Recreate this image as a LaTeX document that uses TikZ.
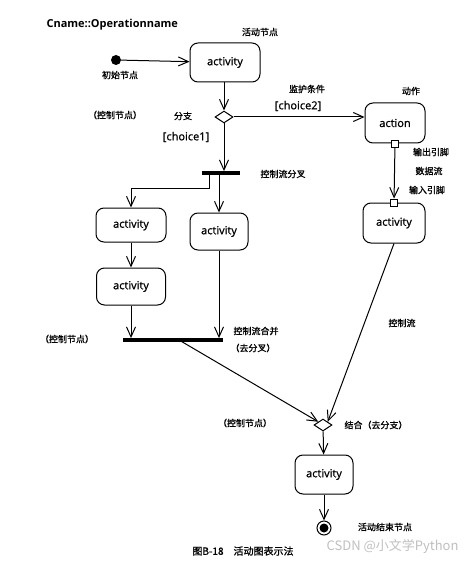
\documentclass[tikz,border=0pt]{standalone}
\usepackage{fontspec}
\setsansfont{Open Sans}
\newfontfamily\cjk{Noto Sans CJK SC}
\newfontfamily\cjkbold{Noto Sans CJK SC}[FakeBold=1]
\newfontfamily\actfont{Open Sans}[FakeBold=1]
\usetikzlibrary{arrows.meta,shapes.geometric}
\tikzset{act/.style={draw,rounded corners=8pt,line width=1pt,inner sep=0pt,
 font=\actfont\fontsize{11}{13}\selectfont},
 note/.style={font=\cjkbold\fontsize{9}{11}\selectfont,inner sep=1pt},
 flow/.style={-{Straight Barb[length=10pt,width=9pt]},line width=1pt},
 bar/.style={fill=black,inner sep=0pt,minimum height=3.4pt},
 pin/.style={draw,fill=white,line width=0.9pt,minimum size=7pt,inner sep=0pt},
 choice/.style={diamond,draw,fill=white,line width=1pt,minimum width=18pt,minimum height=12pt,inner sep=0pt}}
\begin{document}
\begin{tikzpicture}[x=1pt,y=-1pt]
\useasboundingbox (0,0) rectangle (474,564);
\node[font=\sffamily\bfseries\fontsize{11}{13}\selectfont,anchor=west] (title) at (43,25) {Cname::Operationname};
% activity nodes
\foreach \n/\x/\y/\w/\h in {a1/225/62.5/70pt/39pt,a2/131/225/70pt/34pt,a3/219/231.5/58pt/37pt,
 a4/131/286.5/69pt/37pt,a5/394/223/62pt/40pt,a6/324/474.5/58pt/39pt}
 \node[act,minimum width=\w,minimum height=\h] (\n) at (\x,\y) {activity};
\node[act,minimum width=60pt,minimum height=40pt] (action) at (395,123) {action};
% control nodes
\node[circle,fill,minimum size=10pt,inner sep=0pt] (init) at (116,60) {};
\node[choice] (split) at (224,117) {};
\node[choice] (merge) at (323,425) {};
\node[bar,minimum width=38pt] (fork) at (221,173) {};
\node[bar,minimum width=100pt] (join) at (173,340) {};
\node[circle,draw,line width=1pt,minimum size=14pt,inner sep=0pt] (end) at (324,528) {};
\fill (end) circle (4.5);
\node[pin] (outpin) at (action.south) {};
\node[pin] (inpin) at (a5.north) {};
% flows
\draw[flow] (init) -- (a1);
\draw[flow] (split.north |- a1.south) -- (split.north);
\draw[flow] (split.east) -- (split.east -| action.west);
\draw[flow] (split) -- (split |- fork.north);
\draw[flow] ([xshift=-12pt]fork.center) -- ++(0,15) -| (a2.north);
\draw[flow] (fork.center -| a3.north) -- (a3.north);
\draw[flow] (a2) -- (a4);
\draw[flow] (a4.south) -- (a4.south |- join.north);
\draw[flow] (a3.south) -- (a3.south |- join.north);
\draw[flow] ([xshift=6pt]join.center) -- (merge.north west);
\draw[flow] (a5.south) -- (merge.north east);
\draw[flow] (outpin) -- (inpin);
\draw[flow] (merge) -- (a6);
\draw[flow] (a6) -- (end);
% labels
\foreach \x/\y/\t [count=\i] in {260/32/活动节点,120/75/初始节点,115/115/（控制节点）,183/116/分支,
 307/89/监护条件,411/91/动作,431/152/输出引脚,429/171/数据流,427/190/输入引脚,283/174/控制流分叉,
 67/339/（控制节点）,256/331/控制流合并,253/348/（去分叉）,402/323/控制流,245/423/（控制节点）,
 376/425/结合（去分支）,385/527/活动结束节点}
 \node[note] (note\i) at (\x,\y) {\t};
\node[font=\actfont\fontsize{11}{13}\selectfont] (guard1) at (186,137) {[choice1]};
\node[font=\actfont\fontsize{11}{13}\selectfont] (guard2) at (298,106) {[choice2]};
\node[font=\cjkbold\fontsize{10}{12}\selectfont] (caption) at (243,551) {图B-18\quad 活动图表示法};
\node[font=\cjk\fontsize{13}{15}\selectfont,text=gray!50,anchor=east] (mark) at (462,546) {CSDN @小文学Python};
\end{tikzpicture}
\end{document}
